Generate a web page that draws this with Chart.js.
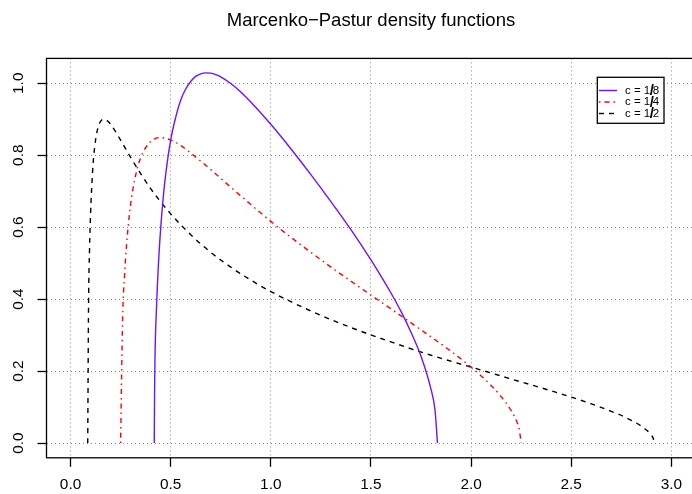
<!DOCTYPE html>
<html>
<head>
<meta charset="utf-8">
<script src="https://cdn.jsdelivr.net/npm/chart.js@4"></script>
<style>
  html, body { margin: 0; padding: 0; background: #fff; overflow: hidden; }
  canvas { display: block; }
</style>
</head>
<body>
<canvas id="mpChart" width="700" height="494"></canvas>
<script>
const titleText = 'Marcenko\u2212Pastur density functions';
const xTicks = [0, 0.5, 1, 1.5, 2, 2.5, 3];
const xTickLabels = ['0.0', '0.5', '1.0', '1.5', '2.0', '2.5', '3.0'];
const yTicks = [0, 0.2, 0.4, 0.6, 0.8, 1.0];
const yTickLabels = ['0.0', '0.2', '0.4', '0.6', '0.8', '1.0'];
const legendLabels = ['c = 1/8', 'c = 1/4', 'c = 1/2'];

// c = 1/8
const x8 = [0.418, 0.42, 0.43, 0.44, 0.45, 0.46, 0.475, 0.5, 0.525, 0.55, 0.575, 0.6, 0.625, 0.65, 0.675, 0.7, 0.725, 0.75, 0.8, 0.85, 0.9,
  1.0, 1.1, 1.2, 1.3, 1.4, 1.5, 1.55, 1.6, 1.65, 1.7, 1.75, 1.8, 1.82, 1.832];
const y8 = [0, 0.165, 0.386, 0.508, 0.596, 0.665, 0.746, 0.842, 0.905, 0.953, 0.984, 1.005, 1.019, 1.026, 1.029, 1.028, 1.024, 1.018, 0.9995, 0.976, 0.948,
  0.886, 0.818, 0.746, 0.671, 0.593, 0.509, 0.464, 0.417, 0.366, 0.308, 0.241, 0.149, 0.091, 0];

// c = 1/4
const x4 = [0.25, 0.26, 0.27, 0.28, 0.3, 0.32, 0.35, 0.4, 0.425, 0.45, 0.475, 0.5, 0.55, 0.6, 0.7, 0.8, 0.9, 1.0,
  1.1, 1.2, 1.3, 1.4, 1.5, 1.6, 1.7, 1.8, 1.9, 2.0, 2.1, 2.15, 2.2, 2.23, 2.24, 2.25];
const y4 = [0, 0.345, 0.469, 0.553, 0.663, 0.731, 0.793, 0.838, 0.847, 0.849, 0.847, 0.842, 0.827, 0.806, 0.760, 0.711, 0.663, 0.616,
  0.572, 0.530, 0.489, 0.450, 0.411, 0.373, 0.334, 0.295, 0.255, 0.211, 0.160, 0.129, 0.090, 0.057, 0.040, 0];

// c = 1/2
const x2 = [0.0858, 0.09, 0.095, 0.1, 0.11, 0.12, 0.13, 0.14, 0.15, 0.16, 0.17, 0.185, 0.2, 0.25, 0.3, 0.35, 0.4, 0.5,
  0.6, 0.7, 0.8, 0.9, 1.0, 1.2, 1.4, 1.6, 1.8, 2.0, 2.2, 2.4, 2.6, 2.7, 2.75, 2.8, 2.85, 2.88, 2.9, 2.91, 2.914];
const y2 = [0, 0.386, 0.540, 0.637, 0.754, 0.820, 0.859, 0.882, 0.894, 0.8995, 0.900, 0.895, 0.886, 0.842, 0.794, 0.749, 0.707, 0.637,
  0.579, 0.530, 0.489, 0.453, 0.421, 0.367, 0.321, 0.281, 0.244, 0.211, 0.178, 0.145, 0.109, 0.088, 0.077, 0.063, 0.047, 0.034, 0.022, 0.012, 0];

const FONT = '"Liberation Sans", Arial, sans-serif';
const lineStyles = [
  { color: '#6a14ff', dash: [] },
  { color: '#ff0000', dash: [1.5, 4, 5, 4] },
  { color: '#000000', dash: [5, 5] }
];

const toPoints = (xs, ys) => xs.map((x, i) => ({ x, y: ys[i] }));
const seriesData = [toPoints(x8, y8), toPoints(x4, y4), toPoints(x2, y2)];

const rAxesPlugin = {
  id: 'rAxes',
  afterDraw(chart) {
    const { ctx, chartArea: ca, scales } = chart;
    ctx.save();
    // box
    ctx.strokeStyle = '#000';
    ctx.lineWidth = 1.3;
    ctx.strokeRect(ca.left, ca.top, ca.right - ca.left, ca.bottom - ca.top);

    // tick labels
    ctx.fillStyle = '#000';
    ctx.font = '15.4px ' + FONT;
    ctx.textAlign = 'center';
    ctx.textBaseline = 'alphabetic';
    xTicks.forEach((v, i) => {
      ctx.fillText(xTickLabels[i], scales.x.getPixelForValue(v), 489);
    });
    yTicks.forEach((v, i) => {
      ctx.save();
      ctx.translate(23, scales.y.getPixelForValue(v));
      ctx.rotate(-Math.PI / 2);
      ctx.fillText(yTickLabels[i], 0, 0);
      ctx.restore();
    });

    // title
    ctx.font = '18.5px ' + FONT;
    ctx.fillText(titleText, (ca.left + ca.right) / 2, 25.5);

    // legend
    const lx = 597.3, ly = 77.3, lw = 66.7, lh = 46;
    ctx.fillStyle = '#fff';
    ctx.fillRect(lx, ly, lw, lh);
    ctx.strokeStyle = '#000';
    ctx.lineWidth = 1.3;
    ctx.strokeRect(lx, ly, lw, lh);
    const rows = [90.5, 102, 113.5];
    legendLabels.forEach((label, i) => {
      const y = rows[i];
      ctx.save();
      ctx.strokeStyle = lineStyles[i].color;
      ctx.lineWidth = 1.4;
      ctx.setLineDash(lineStyles[i].dash);
      ctx.beginPath();
      ctx.moveTo(599, y);
      ctx.lineTo(617, y);
      ctx.stroke();
      ctx.restore();

      const [left, right] = label.split('/');
      ctx.fillStyle = '#000';
      ctx.textAlign = 'left';
      ctx.textBaseline = 'middle';
      ctx.font = '11.5px ' + FONT;
      let x = 625;
      ctx.fillText(left, x, y);
      x += ctx.measureText(left).width - 0.5;
      ctx.font = 'bold 15px ' + FONT;
      ctx.fillText('/', x, y + 0.5);
      x += ctx.measureText('/').width - 1.2;
      ctx.font = '11.5px ' + FONT;
      ctx.fillText(right, x, y);
    });
    ctx.restore();
  }
};

const gridOpts = {
  color: '#8a8a8a',
  lineWidth: 1,
  drawTicks: true,
  tickLength: 9,
  tickColor: '#000',
  tickWidth: 1.3,
  tickBorderDash: []
};

new Chart(document.getElementById('mpChart'), {
  type: 'scatter',
  data: {
    datasets: seriesData.map((pts, i) => ({
      label: legendLabels[i],
      data: pts,
      showLine: true,
      pointRadius: 0,
      borderColor: lineStyles[i].color,
      borderWidth: 1.4,
      borderDash: lineStyles[i].dash,
      cubicInterpolationMode: 'monotone',
      fill: false
    }))
  },
  options: {
    responsive: false,
    devicePixelRatio: 1,
    animation: false,
    layout: { padding: { top: 58.4, right: 4.6, left: 0, bottom: 0 } },
    plugins: {
      legend: { display: false },
      tooltip: { enabled: false },
      title: { display: false }
    },
    scales: {
      x: {
        type: 'linear',
        min: -0.12,
        max: 3.12,
        afterBuildTicks: s => { s.ticks = xTicks.map(v => ({ value: v })); },
        afterFit: s => { s.height = 36.2; },
        grid: gridOpts,
        border: { display: false, dash: [1, 3] },
        ticks: { display: false }
      },
      y: {
        type: 'linear',
        min: -0.0411,
        max: 1.0691,
        afterBuildTicks: s => { s.ticks = yTicks.map(v => ({ value: v })); },
        afterFit: s => { s.width = 46.5; },
        grid: gridOpts,
        border: { display: false, dash: [1, 3] },
        ticks: { display: false }
      }
    }
  },
  plugins: [rAxesPlugin]
});
</script>
</body>
</html>
